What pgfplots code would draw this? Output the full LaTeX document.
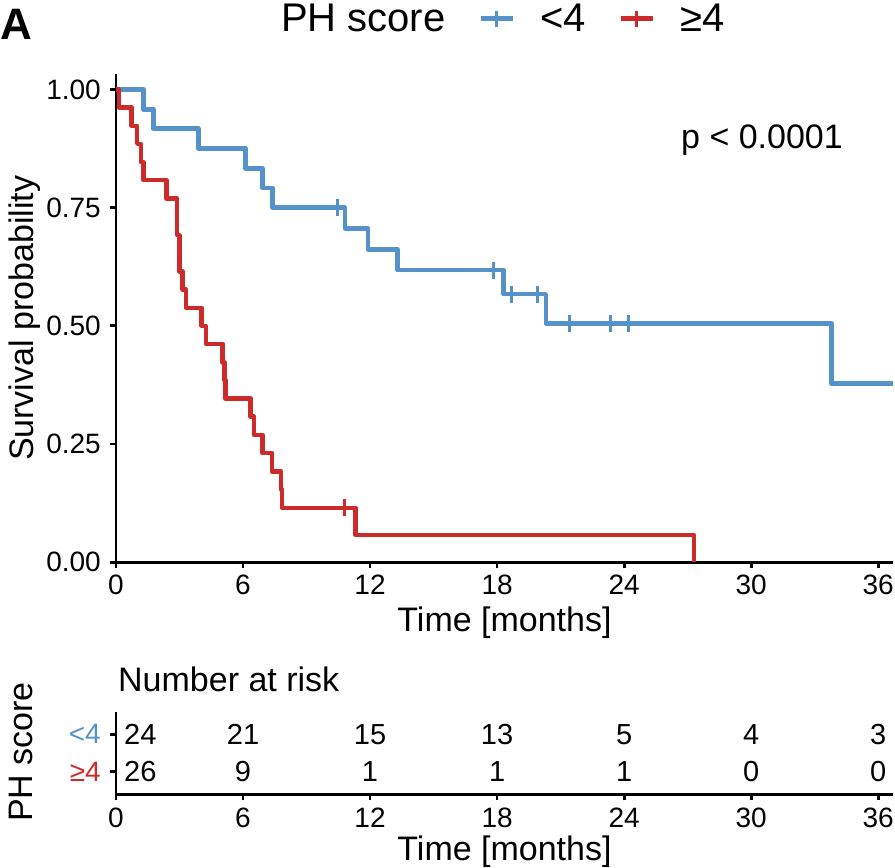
\documentclass[border=0pt]{standalone}
\usepackage{fontspec}
\setmainfont{Liberation Sans}
\usepackage{pgfplots}
\pgfplotsset{compat=1.18}

\definecolor{kmblue}{RGB}{84,146,201}
\definecolor{kmred}{RGB}{205,42,42}

\newcommand{\fs}[1]{\fontsize{#1}{#1}\selectfont}

\pgfplotsset{
  kmaxis/.style={
    scale only axis,
    width=777pt,
    xmin=0, xmax=36.7,
    axis lines=left,
    axis line style={-, line width=2.8pt, black},
    tick align=outside,
    major tick length=6pt,
    tick style={line width=2.8pt, black},
    xtick={0,6,...,36},
    /pgf/number format/assume math mode=true,
    tick label style={font=\fs{28}, inner sep=0pt},
    clip=false,
  },
  kmline/.style={const plot, line width=4.5pt, line join=round, mark=none},
  censor/.style={only marks, mark=|, mark size=8.5pt, mark options={line width=3pt}},
}

\begin{document}
\begin{tikzpicture}

% survival curves
\begin{axis}[kmaxis,
  at={(116pt,305.7pt)}, anchor=south west,
  height=488pt,
  ymin=0, ymax=1.032,
  ytick={0,0.25,0.5,0.75,1},
  yticklabels={0.00,0.25,0.50,0.75,1.00},
  xticklabel style={yshift=-6pt},
  yticklabel style={xshift=-9pt},
  legend columns=-1,
  legend image code/.code={
    \draw[#1,line width=4.5pt] (0pt,0pt) -- (32pt,0pt);
    \draw[#1,line width=3pt] (16pt,-8pt) -- (16pt,8pt);},
  legend style={draw=none, fill=none, inner sep=0pt,
    font=\fs{40}, nodes={inner sep=0pt},
    at={(axis description cs:0.18,1.114)}, anchor=west,
    /tikz/every odd column/.append style={column sep=25pt},
    /tikz/every even column/.append style={column sep=33pt}},
]
\addplot[kmline, kmblue, forget plot] coordinates {
  (0,1) (1.29,0.958) (1.76,0.917) (3.89,0.875) (6.12,0.833) (6.91,0.792)
  (7.40,0.750) (10.81,0.706) (11.91,0.662) (13.30,0.618) (18.30,0.567)
  (20.30,0.505) (33.80,0.378) (36.7,0.378)
};
\addplot[censor, kmblue, forget plot] coordinates {
  (10.45,0.750) (17.85,0.618) (18.70,0.567) (19.90,0.567)
  (21.40,0.505) (23.35,0.505) (24.20,0.505)
};
\addplot[kmline, kmred, forget plot] coordinates {
  (0,1) (0.14,0.962) (0.74,0.923) (1.00,0.885) (1.17,0.846) (1.29,0.808)
  (2.39,0.769) (2.89,0.692) (2.99,0.615) (3.15,0.577) (3.30,0.538)
  (4.05,0.500) (4.25,0.462) (5.04,0.423) (5.12,0.385) (5.18,0.346)
  (6.36,0.308) (6.52,0.269) (6.93,0.231) (7.37,0.192) (7.79,0.154)
  (7.84,0.115) (11.32,0.058) (27.30,0)
};
\addplot[censor, kmred, forget plot] coordinates {(10.81,0.115)};

\addlegendimage{empty legend}
\addlegendentry{PH score}
\addlegendimage{kmblue}
\addlegendentry{<4}
\addlegendimage{kmred}
\addlegendentry{≥4}
\end{axis}

% number at risk table
\begin{axis}[kmaxis,
  at={(116pt,73.7pt)}, anchor=south west,
  height=82.6pt,
  ymin=0.4, ymax=2.6,
  ytick={1,2},
  yticklabels={\textcolor{kmred}{≥4},\textcolor{kmblue}{<4}},
  xticklabel style={yshift=-7pt},
  yticklabel style={xshift=-9pt},
  nodes near coords,
  point meta=explicit symbolic,
  every node near coord/.append style={font=\fs{29}, inner sep=0pt, anchor=center, text=black},
]
\addplot[draw=none, mark=none, every node near coord/.append style={anchor=west, xshift=8pt}]
  table[meta=n] {
x y n
0 2 24
0 1 26
};
\addplot[draw=none, mark=none] table[meta=n] {
x y n
6 2 21
12 2 15
18 2 13
24 2 5
30 2 4
36 2 3
6 1 9
12 1 1
18 1 1
24 1 1
30 1 0
36 1 0
};
\end{axis}

% titles and labels
\node[font=\bfseries\fs{44}, anchor=base west, inner sep=0pt] at (0pt,828pt) {A};
\node[font=\fs{34}, anchor=base west, inner sep=0pt] at (681pt,719.7pt) {p < 0.0001};
\node[font=\fs{34}, anchor=base, inner sep=0pt, rotate=90] at (34pt,549.7pt) {Survival probability};
\node[font=\fs{34}, anchor=base, inner sep=0pt] at (504.5pt,236pt) {Time [months]};
\node[font=\fs{34}, anchor=base west, inner sep=0pt] at (118pt,176pt) {Number at risk};
\node[font=\fs{34}, anchor=base, inner sep=0pt, rotate=90] at (32pt,116pt) {PH score};
\node[font=\fs{34}, anchor=base, inner sep=0pt] at (504.5pt,7pt) {Time [months]};

\pgfresetboundingbox
\useasboundingbox (0pt,0pt) rectangle (895pt,868pt);
\end{tikzpicture}
\end{document}
